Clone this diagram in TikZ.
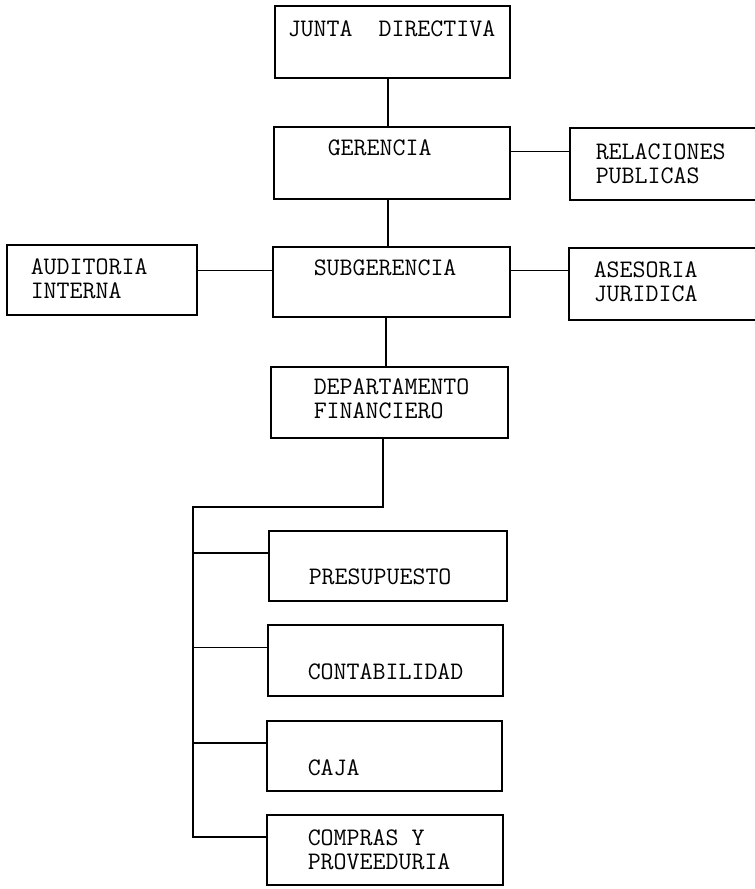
\documentclass[tikz,border=0pt]{standalone}
\usetikzlibrary{fit}

\begin{document}
\begin{tikzpicture}[x=0.03cm,y=-0.03cm,line width=1.3pt,
		recuadro/.style={draw,inner sep=0pt},
		texto/.style={anchor=west,inner sep=0pt,align=left,font=\ttfamily\fontsize{21.5}{20.5}\selectfont}]
	\useasboundingbox (0,0) rectangle (755,889);
	\clip (0,0) rectangle (755,889);
	\node [recuadro,fit={(275,6) (510,78)}] (junta) {};
	\node [recuadro,fit={(274,127) (510,199)}] (gerencia) {};
	\node [recuadro,fit={(570,128) (775,200)}] (relaciones) {};
	\node [recuadro,fit={(7,245) (197,315)}] (auditoria) {};
	\node [recuadro,fit={(273,247) (510,317)}] (subgerencia) {};
	\node [recuadro,fit={(569,248) (775,320)}] (asesoria) {};
	\node [recuadro,fit={(271,367) (508,438)}] (depto) {};
	\node [recuadro,fit={(269,531) (507,601)}] (presupuesto) {};
	\node [recuadro,fit={(268,625) (503,696)}] (contabilidad) {};
	\node [recuadro,fit={(267,721) (502,791)}] (caja) {};
	\node [recuadro,fit={(267,815) (503,885)}] (compras) {};
	\node [texto] (t-junta) at (287,29) {JUNTA\ \ DIRECTIVA};
	\node [texto] (t-gerencia) at (327,148) {GERENCIA};
	\node [texto] (t-relaciones) at (595,163.5) {RELACIONES\\PUBLICAS};
	\node [texto] (t-auditoria) at (30,279) {AUDITORIA\\INTERNA};
	\node [texto] (t-subgerencia) at (313,268) {SUBGERENCIA};
	\node [texto] (t-asesoria) at (593,281.5) {ASESORIA\\JURIDICA};
	\node [texto] (t-depto) at (313,399) {DEPARTAMENTO\\FINANCIERO};
	\node [texto] (t-presupuesto) at (308,577) {PRESUPUESTO};
	\node [texto] (t-contabilidad) at (307,672) {CONTABILIDAD};
	\node [texto] (t-caja) at (307,768) {CAJA};
	\node [texto] (t-compras) at (307,849.5) {COMPRAS Y\\PROVEEDURIA};
	\draw ([xshift=-1.3mm]junta.south) -- ([xshift=-1.3mm]junta.south |- gerencia.north);
	\draw ([xshift=-1.2mm]gerencia.south) -- ([xshift=-1.2mm]gerencia.south |- subgerencia.north);
	\draw ([xshift=-1.6mm]subgerencia.south) -- ([xshift=-1.6mm]subgerencia.south |- depto.north);
	\draw ([yshift=3.4mm]gerencia.east) -- ([yshift=3.4mm]gerencia.east -| relaciones.west);
	\draw ([yshift=3.4mm]subgerencia.west) -- ([yshift=3.4mm]subgerencia.west -| auditoria.east);
	\draw ([yshift=3.4mm]subgerencia.east) -- ([yshift=3.4mm]subgerencia.east -| asesoria.west);
	\coordinate (tronco) at (193,507);
	\draw ([xshift=-2mm]depto.south) |- (tronco) |- ([yshift=3.9mm]compras.west);
	\foreach \n in {presupuesto,contabilidad,caja}
		\draw ([yshift=3.9mm]\n.west) -- ([yshift=3.9mm]\n.west -| tronco);
\end{tikzpicture}
\end{document}
